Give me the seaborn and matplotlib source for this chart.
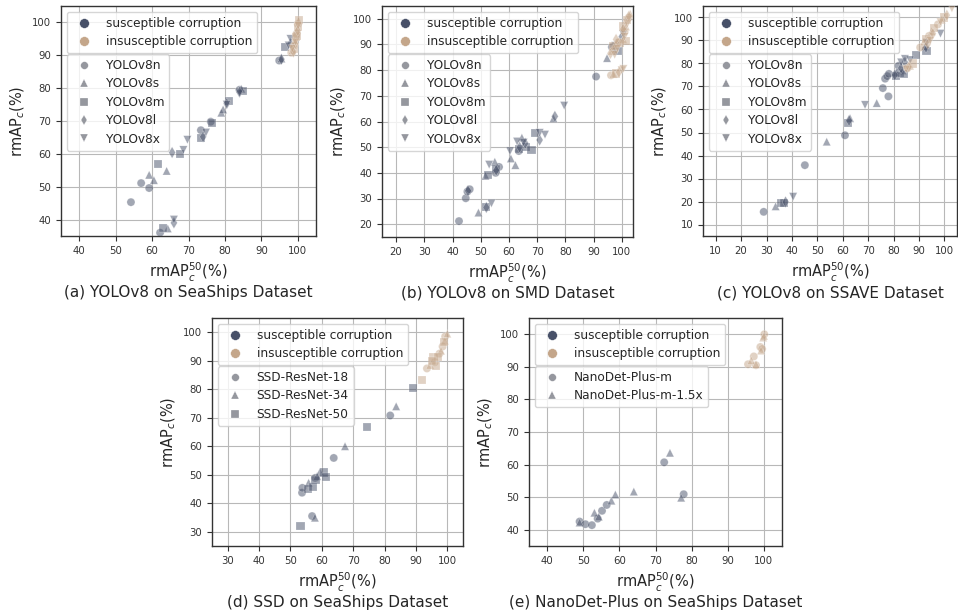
import matplotlib
matplotlib.use("Agg")
import matplotlib.pyplot as plt
import numpy as np
import pandas as pd
import seaborn as sns
from matplotlib.lines import Line2D
from matplotlib.ticker import MultipleLocator

# ---------------- data ----------------
GROUPS = ["susceptible corruption", "insusceptible corruption"]
YOLO_MODELS = ["YOLOv8n", "YOLOv8s", "YOLOv8m", "YOLOv8l", "YOLOv8x"]
SSD_MODELS = ["SSD-ResNet-18", "SSD-ResNet-34", "SSD-ResNet-50"]
NANO_MODELS = ["NanoDet-Plus-m", "NanoDet-Plus-m-1.5x"]

# (a) YOLOv8 on SeaShips
A_MODEL = (["YOLOv8n"] * 8 + ["YOLOv8s"] * 8 + ["YOLOv8m"] * 8 + ["YOLOv8l"] * 7 + ["YOLOv8x"] * 8
           + ["YOLOv8n"] * 4 + ["YOLOv8s"] * 4 + ["YOLOv8m"] * 5 + ["YOLOv8l"] * 3 + ["YOLOv8x"] * 3)
A_X = [54.2, 57.0, 59.2, 62.2, 73.4, 76.1, 84.0, 94.9,
       59.2, 60.5, 64.0, 64.3, 79.0, 79.5, 84.5, 95.5,
       61.7, 63.1, 67.7, 73.4, 76.5, 81.0, 85.0, 96.6,
       65.5, 66.0, 74.0, 80.5, 84.0, 95.5, 98.0,
       66.0, 68.6, 69.7, 74.8, 80.5, 84.0, 98.0, 97.5,
       98.2, 99.0, 99.6, 100.0,
       98.5, 99.2, 99.8, 100.2,
       99.0, 99.5, 100.0, 100.3, 99.8,
       98.8, 99.3, 100.0,
       98.5, 99.4, 100.1]
A_Y = [45.3, 51.1, 49.6, 36.0, 67.2, 69.8, 79.5, 88.4,
       53.6, 52.0, 54.8, 37.3, 72.5, 73.5, 79.8, 89.0,
       57.0, 37.3, 59.9, 64.8, 69.5, 76.0, 79.0, 92.5,
       60.4, 39.0, 65.2, 75.3, 78.8, 88.8, 93.5,
       40.0, 61.2, 64.3, 66.5, 75.0, 78.5, 95.0, 93.0,
       90.8, 93.0, 96.5, 99.5,
       91.5, 94.5, 97.8, 100.5,
       92.0, 95.5, 98.5, 100.8, 96.0,
       91.0, 93.5, 97.5,
       92.0, 94.0, 99.0]
A_GROUP = ["S"] * 39 + ["I"] * 19

# (b) YOLOv8 on SMD
B_MODEL = (["YOLOv8n"] * 9 + ["YOLOv8s"] * 8 + ["YOLOv8m"] * 8 + ["YOLOv8l"] * 8 + ["YOLOv8x"] * 10
           + ["YOLOv8n"] * 5 + ["YOLOv8s"] * 6 + ["YOLOv8m"] * 6 + ["YOLOv8l"] * 5 + ["YOLOv8x"] * 6)
B_X = [42.3, 44.7, 45.3, 46.1, 55.3, 56.5, 63.5, 90.9, 96.5,
       49.2, 51.7, 55.0, 60.7, 62.3, 64.6, 75.8, 94.8,
       51.8, 52.5, 55.5, 63.5, 66.2, 68.0, 69.2, 98.5,
       45.5, 52.0, 55.5, 63.8, 65.8, 70.9, 76.3, 100.0,
       53.8, 53.0, 60.4, 62.9, 65.2, 70.9, 72.8, 79.6, 97.7, 100.5,
       96.2, 97.5, 99.0, 101.0, 102.5,
       97.0, 96.5, 98.0, 100.5, 101.5, 103.0,
       98.0, 97.0, 99.5, 101.5, 102.0, 100.5,
       99.0, 98.0, 100.5, 102.5, 96.0,
       100.0, 100.6, 97.5, 98.5, 101.0, 102.0]
B_Y = [21.2, 30.1, 32.7, 33.6, 40.0, 42.3, 48.5, 77.5, 89.0,
       24.5, 38.8, 44.3, 45.6, 43.0, 53.7, 61.2, 84.7,
       26.6, 39.0, 41.5, 49.3, 50.2, 48.9, 55.4, 87.5,
       33.0, 26.5, 41.0, 50.0, 51.5, 52.8, 62.0, 93.0,
       28.1, 43.2, 48.5, 52.2, 51.8, 55.6, 54.9, 66.2, 89.5, 94.1,
       78.0, 88.0, 91.0, 95.0, 100.5,
       78.5, 87.5, 90.5, 92.0, 97.0, 102.0,
       78.7, 89.5, 90.5, 91.5, 99.5, 97.0,
       79.2, 92.0, 96.0, 101.0, 86.5,
       80.0, 80.5, 86.0, 88.5, 93.0, 98.0]
B_GROUP = ["S"] * 43 + ["I"] * 28

# (c) YOLOv8 on SSAVE
C_MODEL = (["YOLOv8n"] * 9 + ["YOLOv8s"] * 7 + ["YOLOv8m"] * 8 + ["YOLOv8l"] * 6 + ["YOLOv8x"] * 7
           + ["YOLOv8n"] * 4 + ["YOLOv8s"] * 4 + ["YOLOv8m"] * 4 + ["YOLOv8l"] * 4 + ["YOLOv8x"] * 4)
C_X = [28.9, 45.1, 60.9, 75.8, 78.0, 76.7, 77.5, 78.2, 82.0,
       33.6, 53.7, 62.9, 73.4, 81.0, 83.5, 92.5,
       35.8, 37.0, 62.2, 81.0, 82.5, 84.0, 89.0, 93.0,
       37.5, 62.5, 80.5, 83.0, 84.5, 92.8,
       40.5, 68.8, 83.0, 84.5, 86.5, 93.0, 98.5,
       85.5, 90.5, 94.0, 97.5,
       86.5, 92.0, 95.0, 99.0,
       87.5, 93.0, 96.0, 100.0,
       86.0, 93.5, 95.5, 101.0,
       85.0, 94.5, 98.5, 103.0]
C_Y = [15.5, 35.8, 48.8, 69.3, 65.7, 73.4, 74.5, 75.5, 79.0,
       17.9, 46.0, 56.2, 62.8, 76.0, 77.0, 87.5,
       19.5, 19.5, 54.0, 74.5, 76.0, 75.3, 83.5, 85.5,
       19.8, 55.2, 75.0, 78.0, 80.5, 87.0,
       22.1, 62.0, 80.5, 82.0, 81.5, 89.0, 93.0,
       78.0, 87.0, 92.0, 97.0,
       79.0, 89.5, 94.0, 99.0,
       80.0, 90.5, 95.5, 100.0,
       78.5, 88.5, 93.0, 101.0,
       77.5, 90.0, 98.0, 104.0]
C_GROUP = ["S"] * 37 + ["I"] * 20

# (d) SSD on SeaShips
D_MODEL = (["SSD-ResNet-18"] * 6 + ["SSD-ResNet-34"] * 6 + ["SSD-ResNet-50"] * 8
           + ["SSD-ResNet-18"] * 5 + ["SSD-ResNet-34"] * 4 + ["SSD-ResNet-50"] * 6)
D_X = [53.7, 53.8, 56.9, 57.9, 63.8, 81.8,
       55.8, 57.8, 59.4, 58.5, 67.4, 83.7,
       53.2, 55.5, 57.3, 58.0, 60.8, 61.4, 74.4, 89.0,
       93.5, 97.5, 98.5, 99.3, 96.0,
       94.5, 98.0, 100.0, 99.2,
       92.0, 95.6, 96.5, 97.0, 99.0, 95.0]
D_Y = [43.7, 45.4, 35.5, 48.9, 55.9, 70.8,
       47.2, 34.9, 51.0, 49.5, 60.0, 74.0,
       32.1, 45.0, 45.8, 48.0, 50.8, 49.3, 66.6, 80.4,
       87.3, 92.5, 95.0, 98.5, 89.5,
       88.5, 93.5, 99.5, 97.0,
       83.3, 91.4, 88.0, 91.2, 96.5, 90.0]
D_GROUP = ["S"] * 20 + ["I"] * 15

# (e) NanoDet-Plus on SeaShips
E_MODEL = (["NanoDet-Plus-m"] * 8 + ["NanoDet-Plus-m-1.5x"] * 8
           + ["NanoDet-Plus-m"] * 6 + ["NanoDet-Plus-m-1.5x"] * 5)
E_X = [49.0, 50.6, 52.4, 54.0, 55.2, 56.5, 72.4, 77.8,
       49.0, 53.1, 54.3, 57.8, 58.9, 64.0, 74.0, 77.1,
       95.6, 97.2, 97.8, 99.0, 99.5, 100.1,
       96.5, 97.8, 99.2, 99.8, 100.0]
E_Y = [42.5, 41.7, 41.4, 43.4, 45.8, 47.6, 60.7, 50.9,
       42.2, 45.2, 44.0, 48.9, 50.8, 51.7, 63.6, 49.8,
       90.8, 93.2, 90.5, 96.1, 95.5, 100.0,
       92.0, 90.8, 95.0, 99.0, 99.5]
E_GROUP = ["S"] * 16 + ["I"] * 11

CAPTIONS = ["(a) YOLOv8 on SeaShips Dataset", "(b) YOLOv8 on SMD Dataset",
            "(c) YOLOv8 on SSAVE Dataset", "(d) SSD on SeaShips Dataset",
            "(e) NanoDet-Plus on SeaShips Dataset"]

# ---------------- style ----------------
SUS_COLOR = "#475068"
INS_COLOR = "#c4a68a"
MARKERS = ["o", "^", "s", "d", "v"]

sns.set_theme(style="ticks")
plt.rcParams.update({
    "font.family": ["DejaVu Sans"],
    "axes.edgecolor": "#333333",
    "axes.linewidth": 1.0,
    "axes.grid": True,
    "grid.color": "#b8b8b8",
    "grid.linewidth": 0.8,
    "xtick.labelsize": 7.3,
    "ytick.labelsize": 7.3,
    "axes.labelsize": 10.5,
    "xtick.major.size": 3.5,
    "ytick.major.size": 3.5,
    "xtick.major.width": 0.8,
    "ytick.major.width": 0.8,
    "xtick.color": "#333333",
    "ytick.color": "#333333",
    "text.color": "#262626",
    "axes.labelcolor": "#262626",
})

W, H = 958, 615
fig = plt.figure(figsize=(W / 100, H / 100), dpi=100)


def px_axes(left, top, right, bottom):
    return fig.add_axes([left / W, 1 - bottom / H, (right - left) / W, (bottom - top) / H])


panels = [
    (A_MODEL, A_X, A_Y, A_GROUP, YOLO_MODELS, (61, 6, 316, 236), (35, 105), (35, 105)),
    (B_MODEL, B_X, B_Y, B_GROUP, YOLO_MODELS, (382, 6, 633, 237), (15, 104), (15, 105)),
    (C_MODEL, C_X, C_Y, C_GROUP, YOLO_MODELS, (703, 6, 957, 236), (5, 105), (5, 105)),
    (D_MODEL, D_X, D_Y, D_GROUP, SSD_MODELS, (212, 318, 463, 546), (25, 105), (25, 105)),
    (E_MODEL, E_X, E_Y, E_GROUP, NANO_MODELS, (529, 318, 782, 546), (35, 105), (35, 105)),
]
caption_y = [293, 293, 293, 602, 602]

LEG_FS = 8.7
for i, (models_col, xs, ys, grp, models, box, xlim, ylim) in enumerate(panels):
    ax = px_axes(*box)
    df = pd.DataFrame({
        "model": models_col, "x": xs, "y": ys,
        "group": [GROUPS[0] if g == "S" else GROUPS[1] for g in grp],
    })
    mk = {m: MARKERS[j] for j, m in enumerate(models)}
    sns.scatterplot(data=df, x="x", y="y", hue="group", hue_order=GROUPS,
                    palette=[SUS_COLOR, INS_COLOR], style="model", style_order=models,
                    markers=mk, s=34, alpha=0.5, edgecolor="white", linewidth=0.3,
                    legend=False, ax=ax, zorder=3)
    ax.set_xlim(*xlim)
    ax.set_ylim(*ylim)
    ax.xaxis.set_major_locator(MultipleLocator(10))
    ax.yaxis.set_major_locator(MultipleLocator(10))
    ax.set_axisbelow(True)
    ax.grid(True, color="#b8b8b8", linewidth=0.8)
    for sp in ax.spines.values():
        sp.set_visible(True)
        sp.set_color("#333333")
    ax.set_xlabel(r"rmAP$_c^{50}$(%)")
    ax.set_ylabel(r"rmAP$_c$(%)")

    h1 = [Line2D([], [], ls="", marker="o", ms=7, color=c, mec="white", mew=0.3)
          for c in (SUS_COLOR, INS_COLOR)]
    leg1 = ax.legend(h1, GROUPS, loc="upper left", fontsize=LEG_FS, labelspacing=0.45,
                     handletextpad=0.8)
    ax.add_artist(leg1)
    fig.canvas.draw()
    bb = leg1.get_window_extent()
    inv = ax.transAxes.inverted()
    x0, y0 = inv.transform((bb.x0, bb.y0 - 1))
    h2 = [Line2D([], [], ls="", marker=mk[m], ms=5.5, color="#95979e", mec="white", mew=0.2)
          for m in models]
    ax.legend(h2, models, loc="upper left", bbox_to_anchor=(x0, y0), borderaxespad=0,
              fontsize=LEG_FS, labelspacing=0.45)

    cx = (box[0] + box[2]) / 2
    fig.text(cx / W, 1 - caption_y[i] / H, CAPTIONS[i], ha="center", va="center",
             fontsize=11, color="#262626")

fig.savefig("out.png", dpi=100)
